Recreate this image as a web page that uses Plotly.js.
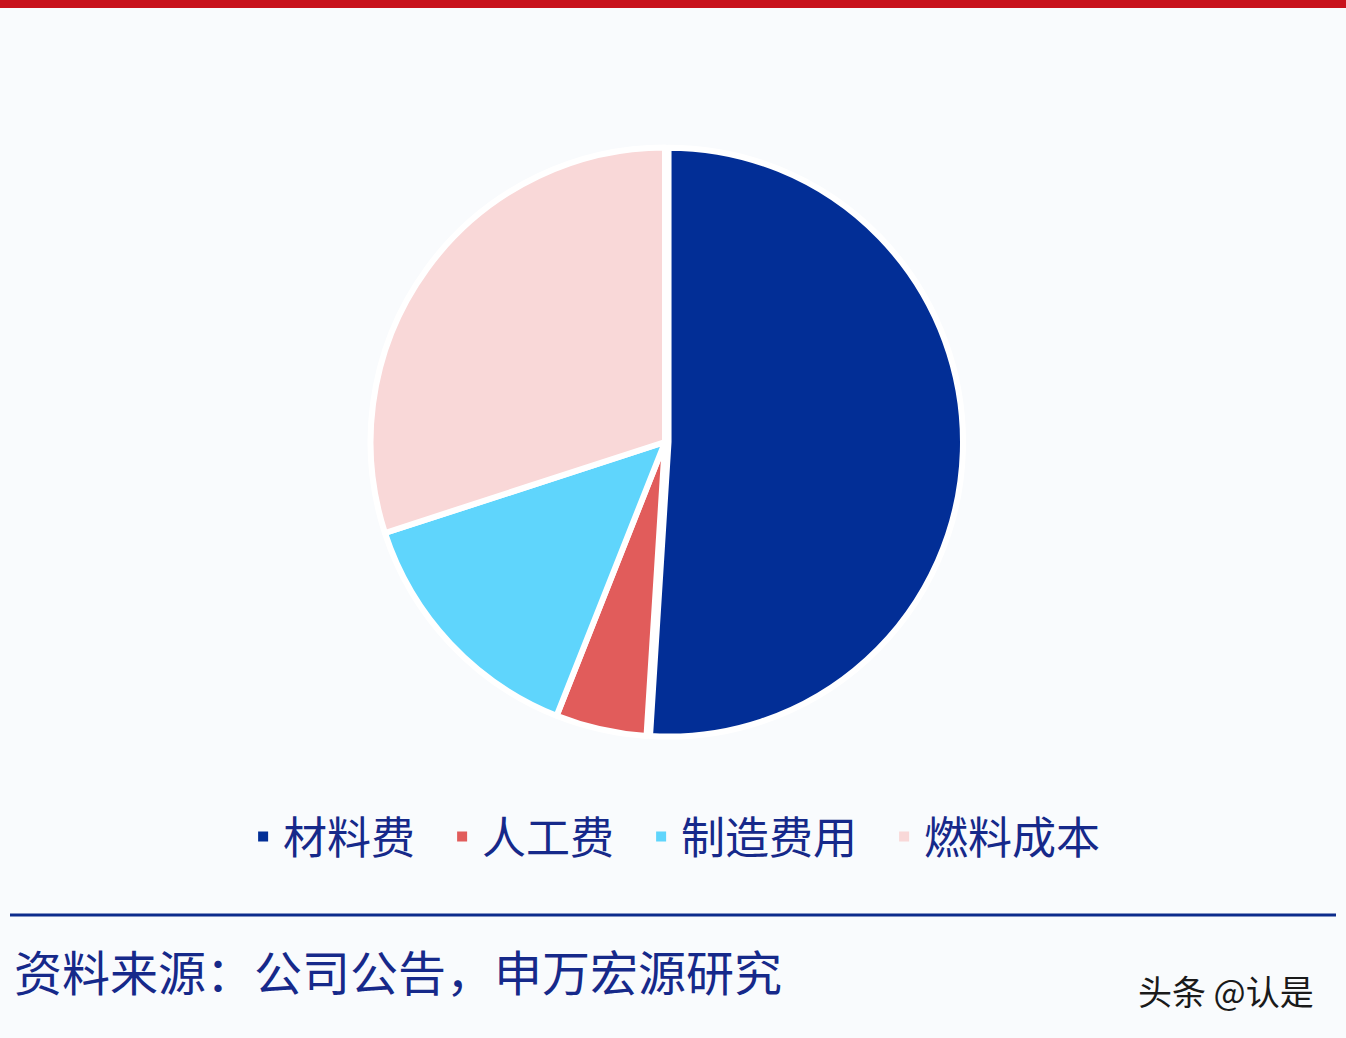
<!DOCTYPE html>
<html>
<head>
<meta charset="utf-8">
<script src="https://cdn.plot.ly/plotly-3.0.1.min.js"></script>
<style>
  html, body { margin: 0; padding: 0; background: #f9fbfd; }
  #chart { width: 1346px; height: 1038px; }
</style>
</head>
<body>
<div id="chart"></div>
<script>
/* Cost structure pie: 材料费 / 人工费 / 制造费用 / 燃料成本 */

const CATEGORIES = ['材料费', '人工费', '制造费用', '燃料成本'];
const SHARES = [51, 5, 14, 30];
const COLORS = ['#022e96', '#e15c5b', '#5fd5fc', '#f9d8d8'];

const W = 1346, H = 1038;
const TEXT_BLUE = '#16298a';
const CJK = '"Noto Sans CJK SC", "Noto Sans", sans-serif';

const pieTrace = {
  type: 'pie',
  labels: CATEGORIES,
  values: SHARES,
  sort: false,
  direction: 'clockwise',
  rotation: 0,
  textinfo: 'none',
  showlegend: false,
  pull: [0.012, 0, 0, 0],
  marker: { colors: COLORS, line: { color: '#ffffff', width: 6 } },
  // domain padded a little so the pulled-out slice does not shrink the pie
  domain: { x: [367 / W, 963 / W], y: [1 - 740 / H, 1 - 144 / H] },
};

// legend entries as empty scatter traces so the square keys stay solid
// (the pie's white slice border would eat its own legend swatch)
const legendTraces = CATEGORIES.map((name, i) => ({
  type: 'scatter',
  mode: 'markers',
  x: [null],
  y: [null],
  name: name + '\u2002',
  marker: { symbol: 'square', size: 10, color: COLORS[i] },
  hoverinfo: 'skip',
}));

const layout = {
  width: W,
  height: H,
  paper_bgcolor: '#f9fbfd',
  plot_bgcolor: 'rgba(0,0,0,0)',
  margin: { t: 0, b: 0, l: 0, r: 0 },
  font: { family: CJK, color: TEXT_BLUE },
  xaxis: { visible: false },
  yaxis: { visible: false },
  showlegend: true,
  legend: {
    orientation: 'h',
    x: 0.509, xanchor: 'center',
    y: 1 - 837 / H, yanchor: 'middle',
    font: { size: 44, family: CJK, color: TEXT_BLUE },
    bgcolor: 'rgba(0,0,0,0)',
  },
  shapes: [
    // red rule across the top
    { type: 'rect', xref: 'paper', yref: 'paper', x0: 0, x1: 1, y0: 1 - 8 / H, y1: 1,
      fillcolor: '#c8121c', line: { width: 0 } },
    // blue rule above the source line
    { type: 'line', xref: 'paper', yref: 'paper', x0: 10 / W, x1: 1336 / W,
      y0: 1 - 915 / H, y1: 1 - 915 / H, line: { color: '#0d2c8c', width: 3 } },
  ],
  annotations: [
    { text: '资料来源：公司公告，申万宏源研究', xref: 'paper', yref: 'paper',
      x: 12 / W, xanchor: 'left', y: 1 - 970 / H, yanchor: 'middle',
      showarrow: false, font: { size: 48, family: CJK, color: TEXT_BLUE } },
    { text: '头条 @认是', xref: 'paper', yref: 'paper',
      x: 1316 / W, xanchor: 'right', y: 1 - 990 / H, yanchor: 'middle',
      showarrow: false, font: { size: 34, family: CJK, color: '#1a1a1a' } },
  ],
};

Plotly.newPlot('chart', [pieTrace, ...legendTraces], layout, { displayModeBar: false, staticPlot: true });
</script>
</body>
</html>
